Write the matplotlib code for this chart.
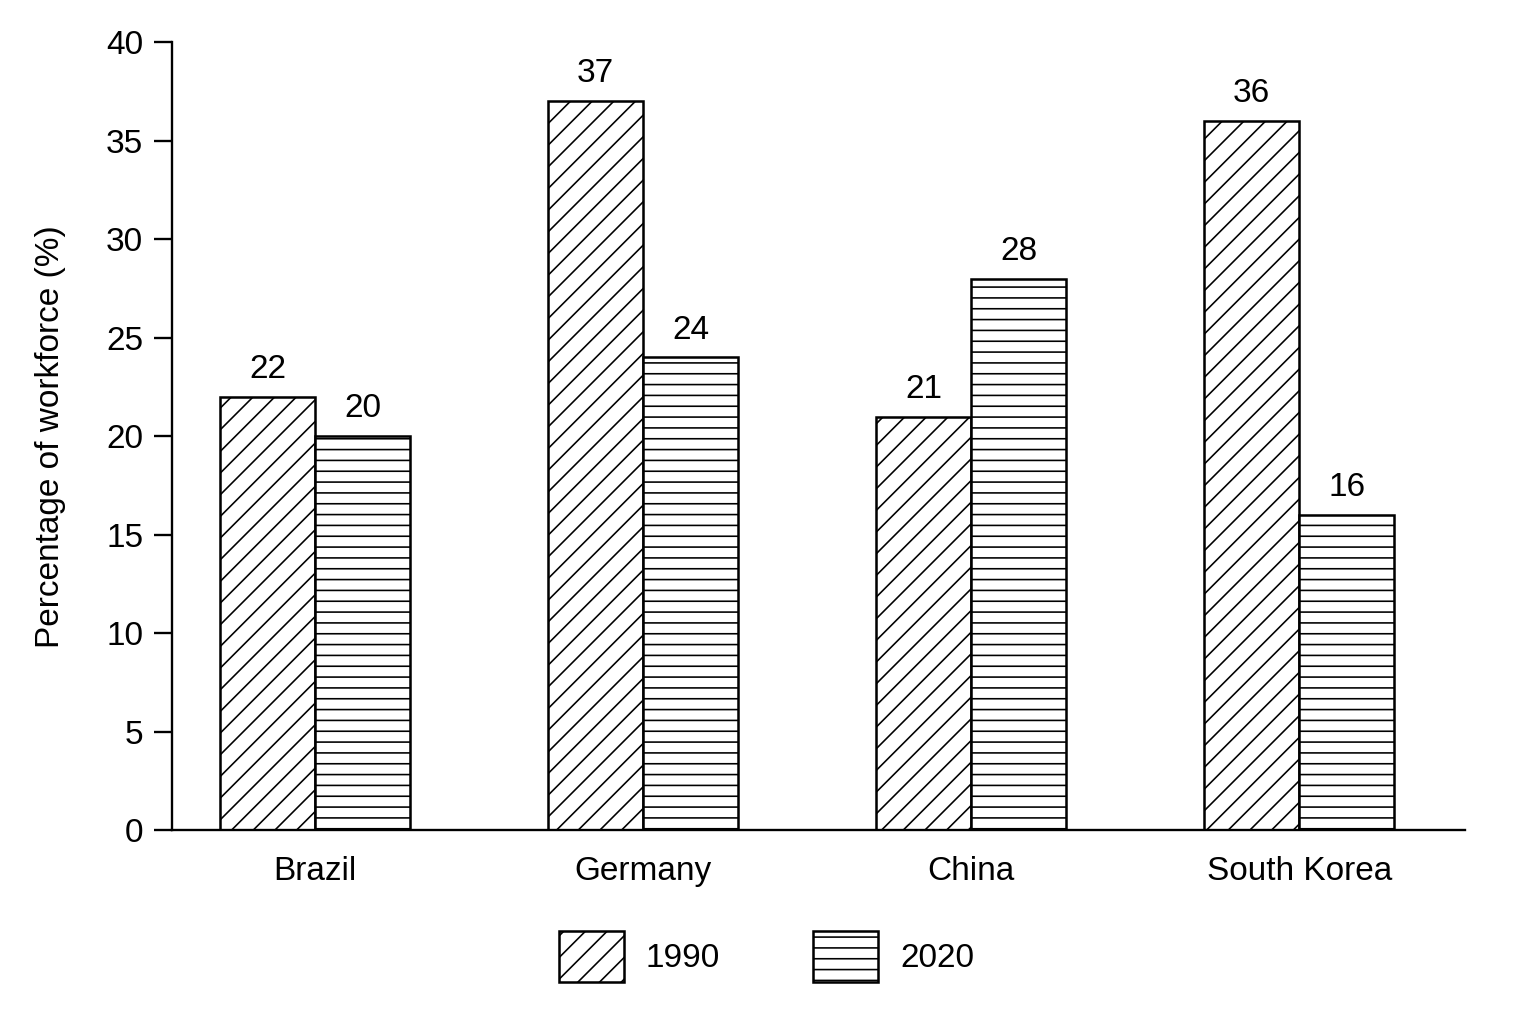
import numpy as np
import matplotlib
matplotlib.use('Agg')
import matplotlib.pyplot as plt

countries = ['Brazil', 'Germany', 'China', 'South Korea']
years = ['1990', '2020']
vals_1990 = [22, 37, 21, 36]
vals_2020 = [20, 24, 28, 16]
yticks = [0, 5, 10, 15, 20, 25, 30, 35, 40]

plt.rcParams['font.family'] = ['Liberation Sans', 'DejaVu Sans']
plt.rcParams['hatch.linewidth'] = 0.9

DPI = 130
fig = plt.figure(figsize=(1536 / DPI, 1024 / DPI), dpi=DPI)
ax = fig.add_axes([0.112, 0.189, 0.842, 0.770])

x = np.arange(len(countries))
w = 0.29
fs = 18.5
b1 = ax.bar(x - w / 2, vals_1990, w, facecolor='white', edgecolor='black',
            linewidth=1.4, hatch='//', label=years[0])
b2 = ax.bar(x + w / 2, vals_2020, w, facecolor='white', edgecolor='black',
            linewidth=1.4, hatch='--', label=years[1])

for bars, vals in ((b1, vals_1990), (b2, vals_2020)):
    for r, v in zip(bars, vals):
        ax.text(r.get_x() + r.get_width() / 2, v + 0.6, str(v),
                ha='center', va='bottom', fontsize=fs)

ax.set_xlim(-0.436, 3.506)
ax.set_ylim(0, 40)
ax.set_yticks(yticks)
ax.set_xticks(x)
ax.set_xticklabels(countries, fontsize=fs)
ax.tick_params(axis='x', length=0, pad=14)
ax.tick_params(axis='y', length=10, width=1.3, pad=6, labelsize=fs)
for s in ('top', 'right'):
    ax.spines[s].set_visible(False)
ax.spines['left'].set_linewidth(1.3)
ax.spines['bottom'].set_linewidth(1.3)
ax.set_ylabel('Percentage of workforce (%)', fontsize=fs, labelpad=22)

fig.legend(handles=[b1, b2], loc='center', bbox_to_anchor=(0.499, 0.066),
           ncol=2, frameon=False, fontsize=fs, handlelength=1.95,
           handleheight=2.0, handletextpad=0.65, columnspacing=2.8)

fig.savefig('out.png', dpi=DPI)
